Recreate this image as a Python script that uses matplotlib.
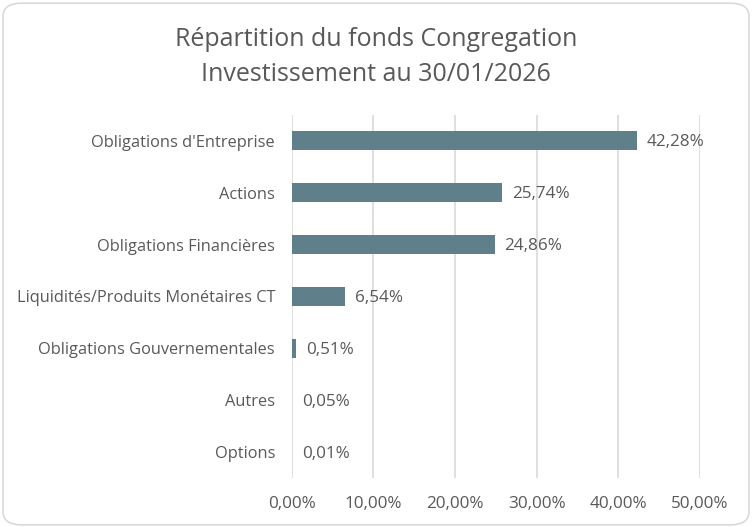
import matplotlib
matplotlib.use("Agg")
import matplotlib.pyplot as plt
from matplotlib.patches import FancyBboxPatch
from matplotlib.ticker import FuncFormatter

categories = ["Obligations d'Entreprise", "Actions", "Obligations Financières",
              "Liquidités/Produits Monétaires CT", "Obligations Gouvernementales",
              "Autres", "Options"]
values = [42.28, 25.74, 24.86, 6.54, 0.51, 0.05, 0.01]
xticks = [0, 10, 20, 30, 40, 50]
title = "Répartition du fonds Congregation\nInvestissement au 30/01/2026"

plt.rcParams['font.family'] = ['Open Sans', 'DejaVu Sans']
txt = '#595959'

fig = plt.figure(figsize=(7.52, 5.27), dpi=100)
fig.patch.set_facecolor('white')
border = FancyBboxPatch((0.004, 0.004), 0.992, 0.99, boxstyle="round,pad=0,rounding_size=0.025",
                        transform=fig.transFigure, facecolor='white', edgecolor='#d9d9d9',
                        linewidth=1.2, zorder=-10)
fig.add_artist(border)

ax = fig.add_axes([0.388, 0.093, 0.543, 0.689])
ax.set_zorder(5)
ax.set_facecolor('none')
y = list(range(len(categories)))
ax.barh(y, values, height=0.37, color='#5f7f8a', zorder=3)
ax.set_ylim(len(categories) - 0.5, -0.5)
ax.set_xlim(0, 50)
ax.set_yticks(y)
ax.set_yticklabels(categories, fontsize=11.8, color=txt)
ax.set_xticks(xticks)
ax.xaxis.set_major_formatter(FuncFormatter(lambda v, p: f"{v:.2f}%".replace('.', ',')))
ax.tick_params(axis='x', labelsize=12.3, labelcolor=txt, length=0, pad=13)
ax.tick_params(axis='y', length=0, pad=12)
ax.grid(axis='x', color='#d9d9d9', linewidth=1.2, zorder=0)
for s in ax.spines.values():
    s.set_visible(False)
for yi, v in zip(y, values):
    ax.text(v + 1.2, yi + 0.03, f"{v:.2f}%".replace('.', ','), va='center', ha='left',
            fontsize=12.3, color=txt, zorder=4)

fig.text(0.5, 0.892, title, ha='center', va='center', fontsize=18, color=txt, linespacing=1.5)

fig.savefig("out.png", dpi=100)
